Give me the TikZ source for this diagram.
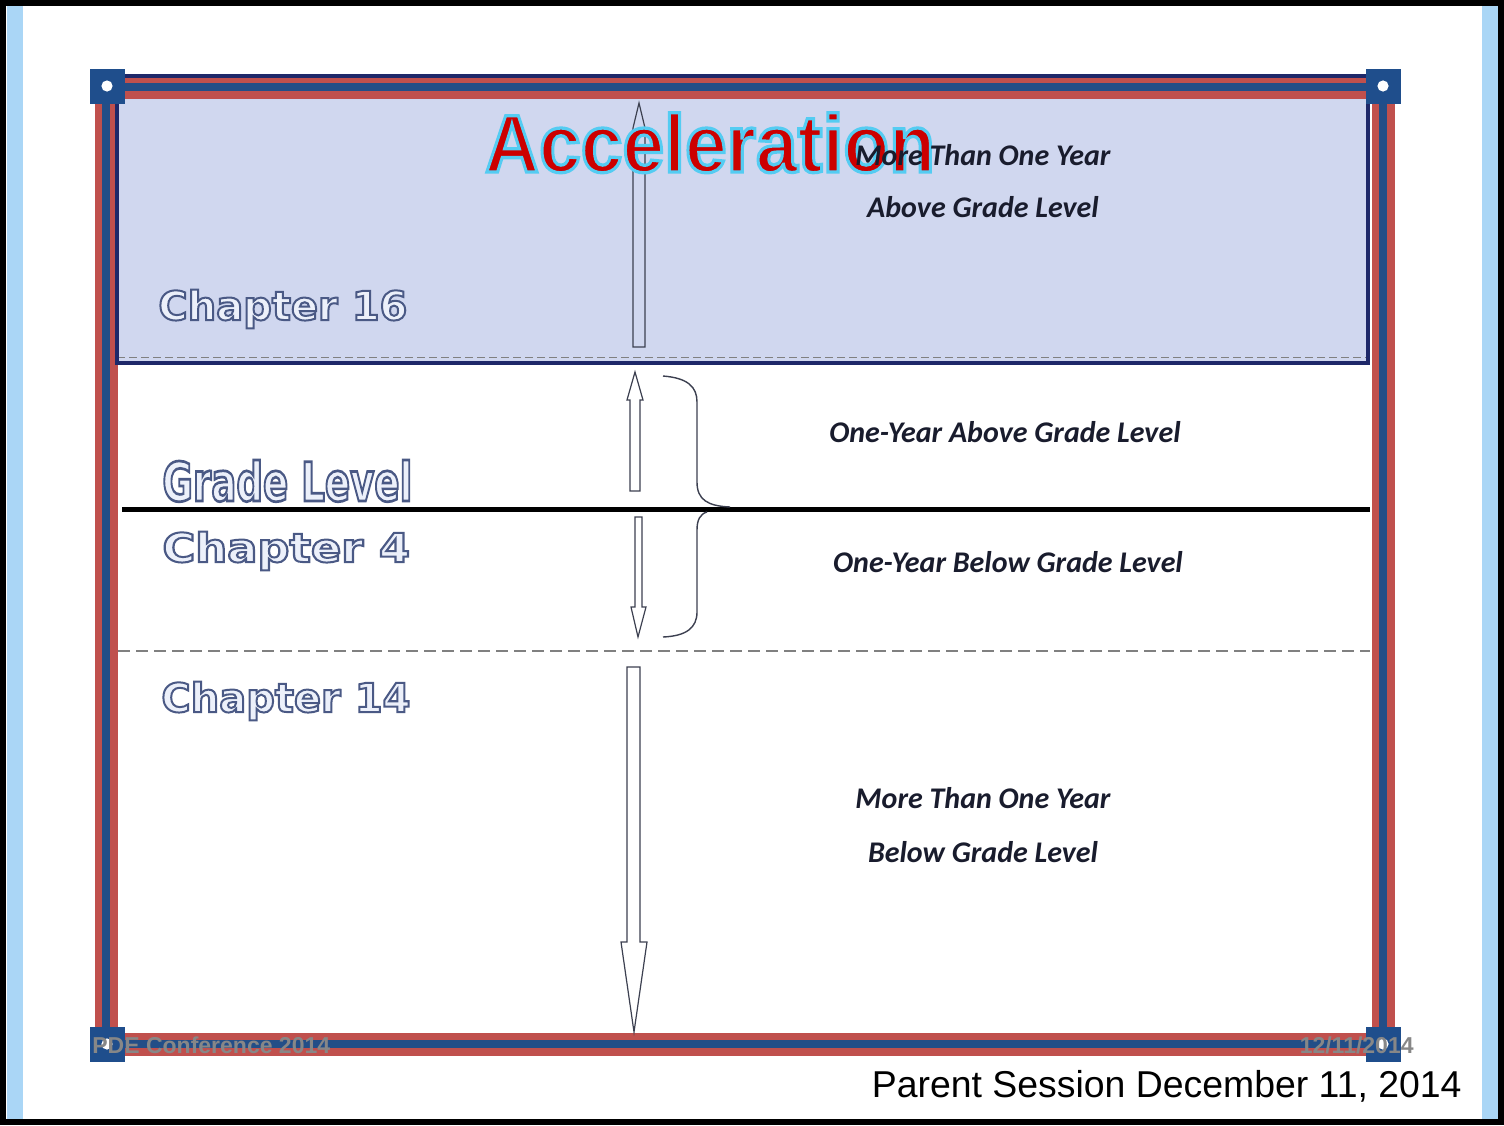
\documentclass[tikz,border=0pt]{standalone}
\usepackage{fontspec}
\setmainfont{Liberation Sans}
\newfontfamily\chapfont[FakeBold=5]{DejaVu Sans Bold}
\newfontfamily\titlefont[FakeBold=4]{Liberation Sans Bold}
\newfontfamily\notefont{Carlito}
\usetikzlibrary{positioning}

\definecolor{framered}{RGB}{192,80,77}
\definecolor{frameblue}{RGB}{35,78,135}
\definecolor{cornerblue}{RGB}{31,78,140}
\definecolor{boxfill}{RGB}{208,215,239}
\definecolor{boxline}{RGB}{30,40,105}
\definecolor{stripblue}{RGB}{170,214,246}
\definecolor{chapfill}{RGB}{236,240,250}
\definecolor{titlered}{RGB}{204,0,0}
\definecolor{notetext}{RGB}{25,28,45}
\definecolor{footgray}{RGB}{135,135,135}
\definecolor{arrowline}{RGB}{60,64,80}

% light letters with a dark rim (the rim is the stroke of the emboldened font)
\newcommand{\hollow}[1]{\textcolor{chapfill}{\special{pdf:literal direct 0.29 0.35 0.52 RG}#1}}
\newcommand{\glowred}[1]{\textcolor{titlered}{\special{pdf:literal direct 0.33 0.80 0.95 RG}#1}}

\tikzset{
  chapter/.style={font=\chapfont\fontsize{20}{24}\selectfont, inner sep=0pt, anchor=base west},
  note/.style={font=\notefont\bfseries\itshape\fontsize{15}{18}\selectfont, text=notetext, inner sep=0pt, anchor=base},
  footer/.style={font=\bfseries\fontsize{11.5}{14}\selectfont, text=footgray, inner sep=0pt},
  corner/.style={fill=cornerblue, minimum size=17.5pt, inner sep=0pt},
  blockarrow/.style={draw=arrowline, line width=0.6pt},
  bracepen/.style={draw=arrowline, line width=0.7pt},
}

\begin{document}
\begin{tikzpicture}[x=0.5pt, y=-0.5pt]
    \useasboundingbox (0,0) rectangle (1504,1125);
    \fill[white] (0,0) rectangle (1504,1125);

    % side strips and outer frame
    \fill[stripblue] (7,0) rectangle (23,1125);
    \fill[stripblue] (1482,0) rectangle (1498,1125);
    \draw[line width=3pt] (3,3) rectangle (1501,1122);

    % shaded top region
    \fill[boxfill] (117,76) rectangle (1368,363);
    \draw[gray, line width=0.5pt, dash pattern=on 4pt off 2pt] (117,357) -- (1368,357);

    % triple border
    \draw[framered, line width=11.5pt] (106,87) rectangle (1383,1044);
    \draw[frameblue, line width=4pt] (106,87) rectangle (1383,1044);
    \draw[boxline, line width=2pt] (117,76) rectangle (1368,363);

    % level lines
    \draw[line width=2.5pt] (122,509) -- (1370,509);
    \draw[gray, line width=0.8pt, dash pattern=on 6pt off 3pt] (118,651) -- (1370,651);

    % corner squares
    \node[corner] (tl) at (107,86) {};
    \node[corner] (tr) at (1383,86) {};
    \node[corner] (bl) at (107,1044) {};
    \node[corner] (br) at (1383,1044) {};
    \foreach \c in {tl,tr,bl,br}
        \fill[white] (\c) circle (2.8pt);

    % arrows
    \draw[blockarrow] (633,347) -- (645,347) -- (645,128) -- (639,103) -- (633,128) -- cycle;
    \draw[blockarrow, fill=white] (630,491) -- (640,491) -- (640,400) -- (643,400) -- (635,372)
        -- (627,400) -- (630,400) -- cycle;
    \draw[blockarrow, fill=white] (635,517) -- (642,517) -- (642,607) -- (646,607) -- (638,637)
        -- (631,607) -- (635,607) -- cycle;
    \draw[blockarrow, fill=white] (627,667) -- (640,667) -- (640,942) -- (647,942) -- (634,1032)
        -- (621,942) -- (627,942) -- cycle;

    % brace
    \draw[bracepen] (663,376) .. controls (688,378) and (697,387) .. (697,402) -- (697,482)
        .. controls (697,500) and (708,506) .. (730,507);
    \draw[bracepen] (707,512) .. controls (700,514) and (697,520) .. (697,530) -- (697,612)
        .. controls (697,628) and (686,636) .. (663,637);

    % chapter labels
    \node[chapter] (ch16) at (158,320) {\hollow{Chapter 16}};
    \node[chapter, font=\chapfont\fontsize{18.6}{22}\selectfont] (grade) at (162,501)
        {\scalebox{1}[1.45]{\hollow{Grade Level}}};
    \node[chapter] (ch4) at (162,562) {\scalebox{1.12}[1]{\hollow{Chapter 4}}};
    \node[chapter] (ch14) at (161,712) {\hollow{Chapter 14}};

    % title
    \node[font=\titlefont\fontsize{37.5}{44}\selectfont, inner sep=0pt, anchor=base] (title) at (710,172)
        {\scalebox{1}[1.09]{\glowred{Acceleration}}};

    % descriptions
    \node[note] (aboveA) at (983,165) {More Than One Year};
    \node[note, below=26pt of aboveA.base, anchor=base] (aboveB) {Above Grade Level};
    \node[note] (oneup) at (1005,442) {One-Year Above Grade Level};
    \node[note] (onedown) at (1008,572) {One-Year Below Grade Level};
    \node[note] (belowA) at (983,808) {More Than One Year};
    \node[note, below=27pt of belowA.base, anchor=base] (belowB) {Below Grade Level};

    % footer
    \node[footer, anchor=west] (conf) at (92,1045) {PDE Conference 2014};
    \node[footer, anchor=east] (date) at (1414,1045) {12/11/2014};
    \node[font=\fontsize{18.7}{22}\selectfont, inner sep=0pt, anchor=base east] (session) at (1462,1097)
        {Parent Session December 11, 2014};
\end{tikzpicture}
\end{document}
